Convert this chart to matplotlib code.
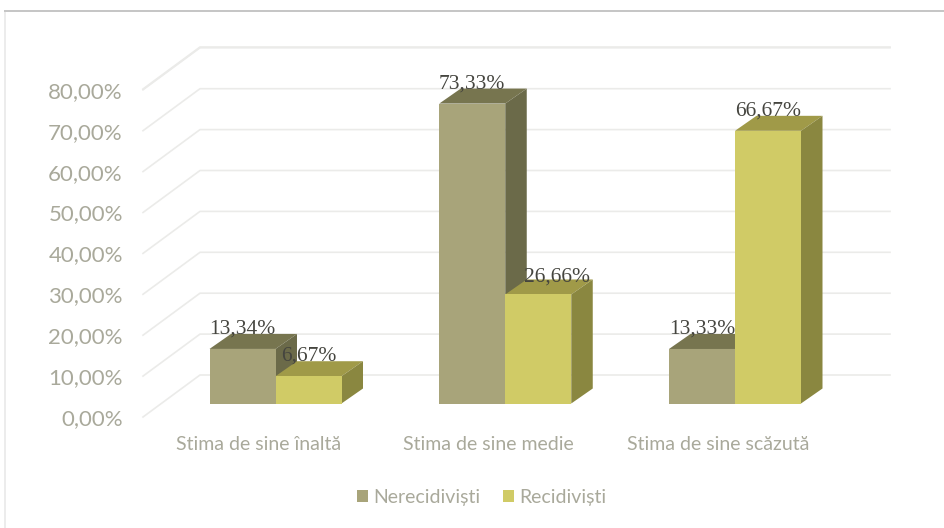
import matplotlib
matplotlib.use("Agg")
import matplotlib.pyplot as plt
from matplotlib.patches import Patch, Rectangle

# === Data ===
categories = ["Stima de sine înaltă", "Stima de sine medie", "Stima de sine scăzută"]
series_names = ["Nerecidiviști", "Recidiviști"]
nerecidivisti = [13.34, 73.33, 13.33]
recidivisti = [6.67, 26.66, 66.67]
nerecidivisti_labels = ["13,34%", "73,33%", "13,33%"]
recidivisti_labels = ["6,67%", "26,66%", "66,67%"]
y_ticks = [0, 10, 20, 30, 40, 50, 60, 70, 80]
y_tick_labels = ["0,00%", "10,00%", "20,00%", "30,00%", "40,00%", "50,00%", "60,00%", "70,00%", "80,00%"]

# === Layout in pixels ===
W, H = 944, 528
PX_PER_CAT = 229.75
PX_PER_PCT = 4.09
LEFT, RIGHT, BOTTOM, TOP = 143, 890, 417, 47
FIRST_CAT_PX = 259

plt.rcParams["font.family"] = ["Lato", "DejaVu Sans"]
GREY = "#a9a99b"

fig = plt.figure(figsize=(W / 100, H / 100), dpi=100, facecolor="white")
ax = fig.add_axes([LEFT / W, 1 - BOTTOM / H, (RIGHT - LEFT) / W, (BOTTOM - TOP) / H])
ax.set_xlim((LEFT - FIRST_CAT_PX) / PX_PER_CAT, (RIGHT - FIRST_CAT_PX) / PX_PER_CAT)
ax.set_ylim(0, (BOTTOM - TOP) / PX_PER_PCT)
ax.patch.set_visible(False)
for s in ax.spines.values():
    s.set_visible(False)


def dx(px):
    return px / PX_PER_CAT


def dy(px):
    return px / PX_PER_PCT


# Picture frame
fig.add_artist(Rectangle((4 / W, 0), 2 / W, 1 - 11 / H, transform=fig.transFigure, color="#ececec", lw=0))
fig.add_artist(Rectangle((4 / W, 1 - 12 / H), 1, 2 / H, transform=fig.transFigure, color="#c6c6c6", lw=0))

# Gridlines run along the left wall, then across the back wall
x0, x1 = ax.get_xlim()
for v in y_ticks + [90]:
    if v == 90:
        v = ax.get_ylim()[1] - dy(42)
    ax.plot([x0, x0 + dx(57), x1], [v, v + dy(42), v + dy(42)],
            color="#ebebe9", lw=1.2, clip_on=False, zorder=1)

# === Bars ===
BAR_W = 66
SHIFT_X, SHIFT_Y = 16.5, 13.5
DEPTH_X, DEPTH_Y = 21.5, 15
styles = [
    {"front": "#a8a47a", "top": "#77754f", "side": "#6b6a49"},
    {"front": "#d0cb66", "top": "#a09a48", "side": "#8a8740"},
]
series = [nerecidivisti, recidivisti]
label_sets = [nerecidivisti_labels, recidivisti_labels]
# the 26,66% label sits off its bar in the original
label_nudges = [[(0, 0), (0, 0), (0, 0)], [(0, 0), (19, -3), (0, 0)]]
z = 2
for i in range(len(categories)):
    for j, values in enumerate(series):
        st = styles[j]
        v = values[i]
        base = dy(SHIFT_Y)
        left = i + dx(SHIFT_X) + (j - 1) * dx(BAR_W)
        right = left + dx(BAR_W)
        ax.fill([left, right, right + dx(DEPTH_X), left + dx(DEPTH_X)],
                [base + v, base + v, base + v + dy(DEPTH_Y), base + v + dy(DEPTH_Y)],
                color=st["top"], lw=0, clip_on=False, zorder=z)
        ax.fill([right, right + dx(DEPTH_X), right + dx(DEPTH_X), right],
                [base, base + dy(DEPTH_Y), base + v + dy(DEPTH_Y), base + v],
                color=st["side"], lw=0, clip_on=False, zorder=z)
        ax.bar(left, v, width=dx(BAR_W), bottom=base, align="edge",
               color=st["front"], lw=0, clip_on=False, zorder=z)
        z += 1

# Data labels go on top of every bar
for j, values in enumerate(series):
    for i, v in enumerate(values):
        left = i + dx(SHIFT_X) + (j - 1) * dx(BAR_W)
        nx, ny = label_nudges[j][i]
        ax.text(left + dx(BAR_W / 2 + nx), v + dy(SHIFT_Y + 20 + ny), label_sets[j][i],
                ha="center", va="center", fontsize=15.5, color="#45453f",
                family="Liberation Serif", zorder=20, clip_on=False)

# === Axes text ===
ax.set_yticks(y_ticks, y_tick_labels)
ax.set_xticks(range(len(categories)), categories)
ax.tick_params(axis="y", length=0, pad=14.5, labelsize=16, labelcolor=GREY)
ax.tick_params(axis="x", length=0, pad=14, labelsize=14, labelcolor=GREY)

handles = [Patch(color=styles[k]["front"], lw=0, label=series_names[k]) for k in range(2)]
fig.legend(handles=handles, loc="center", bbox_to_anchor=(481.5 / W, 1 - 497.6 / H),
           ncol=2, frameon=False, fontsize=14, labelcolor=GREY,
           handlelength=0.57, handleheight=0.57, handletextpad=0.28, columnspacing=1.15)

fig.savefig("out.png", dpi=100, facecolor="white")
